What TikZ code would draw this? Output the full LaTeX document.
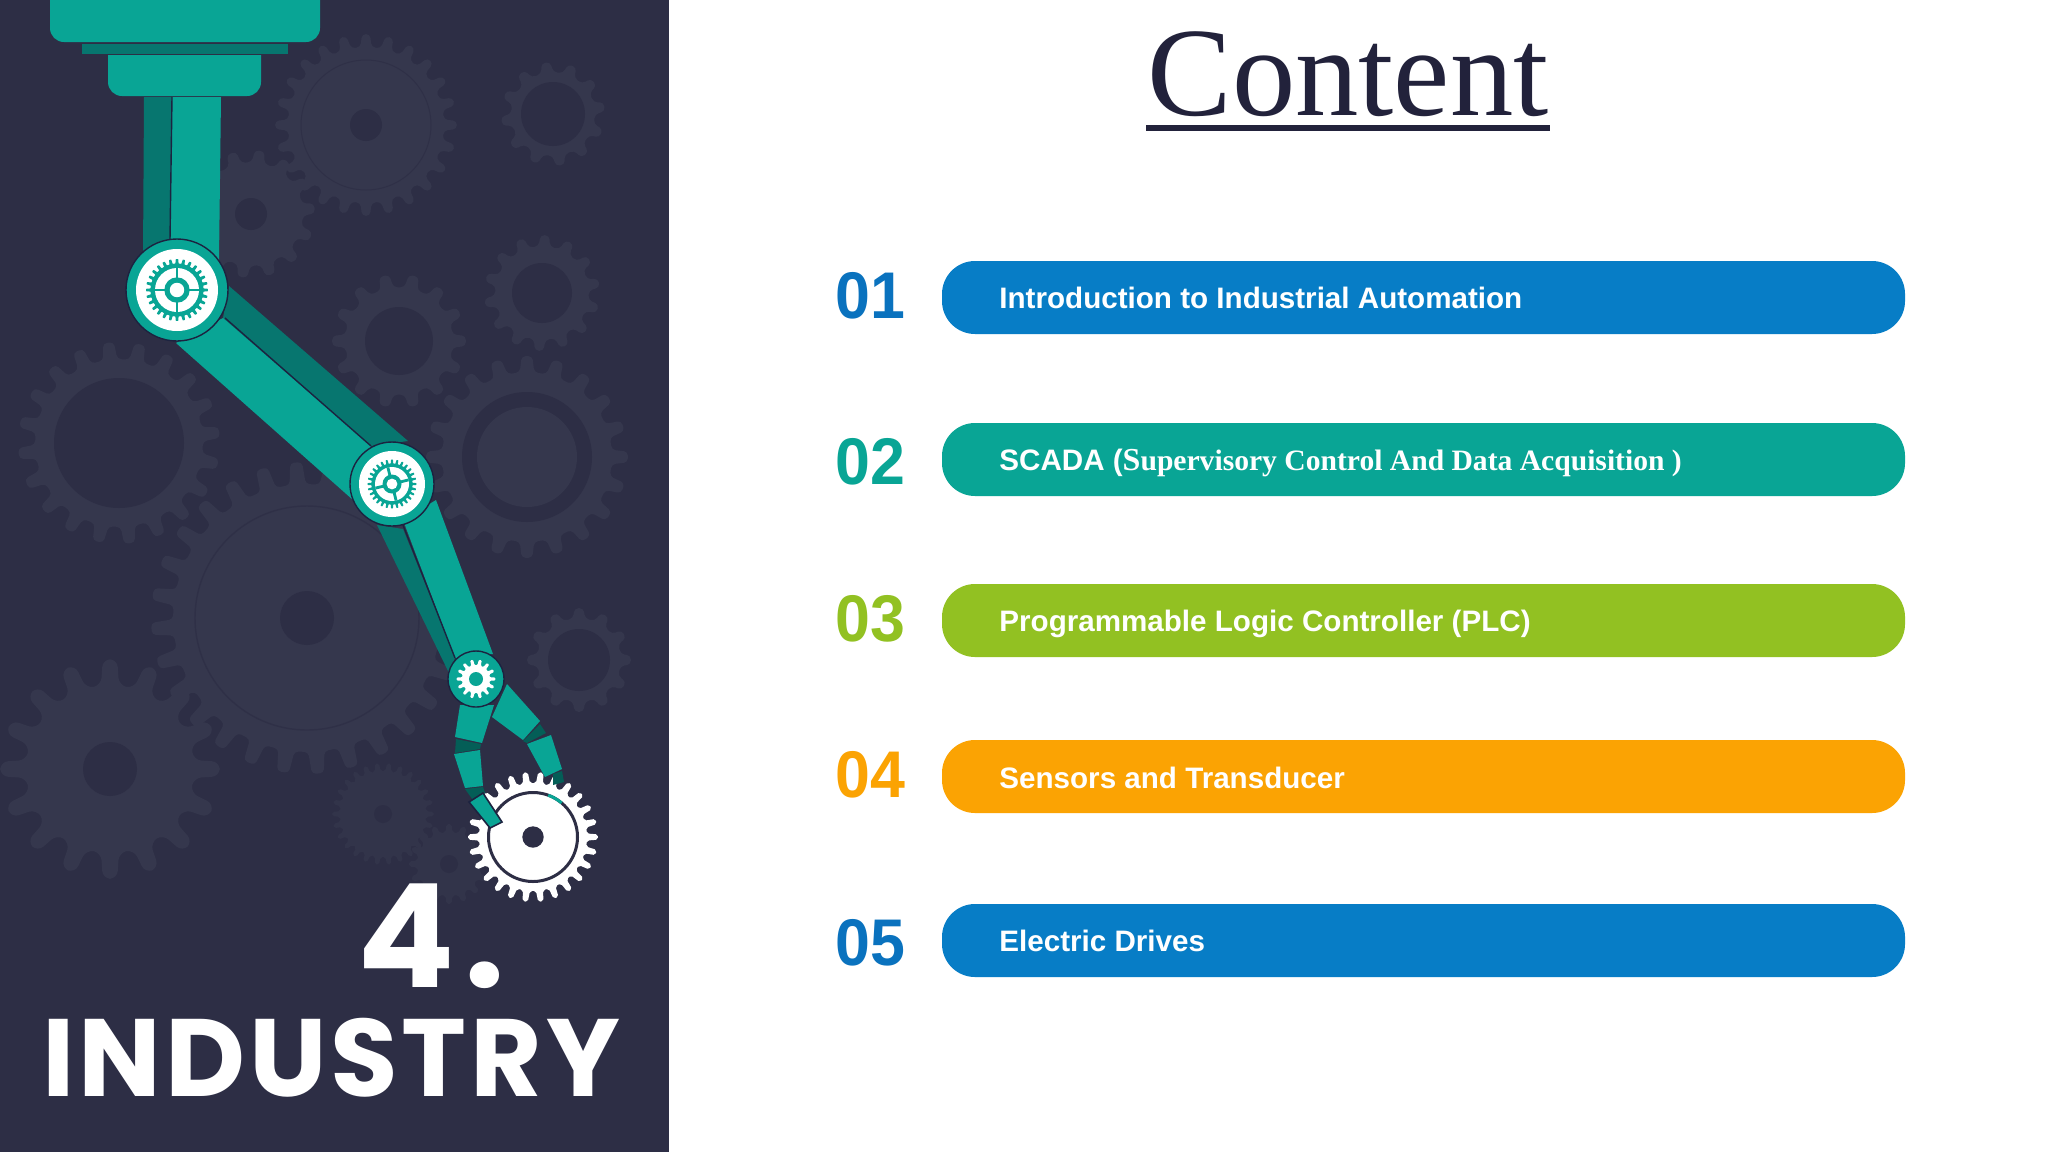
\documentclass[tikz,border=0pt]{standalone}
\usepackage{fontspec}
\setmainfont{Liberation Sans}
\newfontfamily\headfont{Poppins}
\newfontfamily\titlefont{Liberation Serif}
\definecolor{panel}{HTML}{2D2E45}
\definecolor{cog}{HTML}{35374D}
\definecolor{cogdim}{HTML}{32344A}
\definecolor{cogline}{HTML}{2F3047}
\definecolor{armteal}{HTML}{09A595}
\definecolor{armdark}{HTML}{07766F}
\definecolor{armseam}{HTML}{045E57}
\definecolor{armline}{HTML}{1C2340}
\definecolor{titleink}{HTML}{22223B}
\definecolor{pillblue}{HTML}{077DC6}
\definecolor{pillteal}{HTML}{09A595}
\definecolor{pillgreen}{HTML}{92C122}
\definecolor{pillorange}{HTML}{FBA303}
\definecolor{numblue}{HTML}{0A72BE}
\tikzset{
  pill/.style={rounded corners=16.5pt,draw=none},
  pilltext/.style={anchor=west,text=white,font=\fontsize{14.8}{18}\selectfont\bfseries,inner sep=0pt},
  numtext/.style={anchor=west,font=\fontsize{33}{36}\selectfont\bfseries,inner sep=0pt},
  arm/.style={fill=armteal},
  armd/.style={fill=armdark},
  arms/.style={fill=armseam},
  seam/.style={draw=armline,line width=0.7pt},
}
% #1 options, #2 cx, #3 cy, #4 tip radius, #5 root radius, #6 teeth, #7 rotation
\newcommand{\cogwheel}[7][cog]{%
  \pgfmathsetmacro{\gp}{360/#6}%
  \fill[rounded corners=2pt,#1,shift={(#2,#3)},rotate=#7]
    (-0.5*\gp:#5)
    \foreach \k in {1,...,#6}{
      -- ({(\k-1)*\gp-0.27*\gp}:#5)
      -- ({(\k-1)*\gp-0.17*\gp}:#4)
      -- ({(\k-1)*\gp+0.17*\gp}:#4)
      -- ({(\k-1)*\gp+0.27*\gp}:#5)
    } -- cycle;%
}
% joint with gear: #1 x,#2 y,#3 outer,#4 white,#5 tip,#6 root,#7 band,#8 rotation,#9 hub
\newcommand{\jointgear}[9]{%
  \cogwheel[armteal,rounded corners=0.2pt]{#1}{#2}{#5}{#6}{28}{0}%
  \fill[white,shift={(#1,#2)}] (0,0) circle ({#7});%
  \begin{scope}[shift={(#1,#2)},rotate=#8]
    \draw[armteal,line width=1.4pt] (-#7,0) -- (#7,0) (0,-#7) -- (0,#7);
  \end{scope}%
  \fill[armteal,shift={(#1,#2)}] (0,0) circle ({#9});%
  \fill[white,shift={(#1,#2)}] (0,0) circle ({#9*0.57});%
}
\begin{document}
\begin{tikzpicture}[x=0.5pt,y=-0.5pt]
\useasboundingbox (0,0) rectangle (2048,1152);
\fill[white] (0,0) rectangle (2048,1152);
\fill[panel] (0,0) rectangle (669,1152);

% background gears
\cogwheel{366}{125}{91}{78}{24}{0}
\cogwheel{553}{114}{52}{42}{12}{8}
\cogwheel{251}{214}{64}{52}{14}{5}
\cogwheel{542}{293}{58}{47}{14}{10}
\cogwheel{399}{341}{67}{54}{14}{0}
\cogwheel{119}{443}{101}{84}{20}{6}
\cogwheel{527}{457}{101}{85}{20}{0}
\cogwheel{307}{618}{156}{134}{28}{4}
\cogwheel{579}{660}{52}{42}{12}{0}
\cogwheel[cog,rounded corners=4pt]{110}{769}{110}{84}{16}{0}
\cogwheel[cogdim,rounded corners=1pt]{383}{814}{51}{43}{26}{0}
\cogwheel[cogdim,rounded corners=1pt]{449}{864}{40}{32}{16}{0}
\fill[panel] (366,125) circle (16);
\draw[cogline,line width=0.5pt] (366,125) circle (65);
\fill[panel] (553,114) circle (32);
\fill[panel] (251,214) circle (16);
\fill[panel] (542,293) circle (30);
\fill[panel] (399,341) circle (34);
\fill[panel] (119,443) circle (65);
\fill[panel] (527,457) circle (65);
\fill[cog] (527,457) circle (50);
\fill[panel] (307,618) circle (27);
\draw[cogline,line width=0.7pt] (307,618) circle (112);
\fill[panel] (579,660) circle (31);
\fill[panel] (110,769) circle (27);
\fill[panel] (383,814) circle (9);
\fill[panel] (449,864) circle (9);

% upper head
\fill[arm] (50,0) -- (320,0) -- (320,28) arc (0:90:14) -- (64,42) arc (90:180:14) -- cycle;
\fill[armd] (82,44) rectangle (288,54);
\fill[arm] (108,55) -- (261,55) -- (261,82) arc (0:90:14) -- (122,96) arc (90:180:14) -- cycle;
% upper arm
\fill[armd] (144,97) -- (172,97) -- (170,260) -- (143,260) -- cycle;
\fill[arm] (172,97) -- (221,97) -- (219,260) -- (170,260) -- cycle;
\draw[seam] (172,97) -- (170,240);
% middle arm
\fill[armd] (229,286) -- (408,441) -- (371,446) -- (223,318) -- cycle;
\fill[arm] (176,343) -- (223,318) -- (371,446) -- (353,500) -- cycle;
\draw[seam] (225,318) -- (371,446);
% lower arm
\fill[armd] (377,525) -- (403,529) -- (455,658) -- (449,673) -- cycle;
\fill[arm] (403,520) -- (436,500) -- (493,654) -- (455,658) -- cycle;
\draw[seam] (403,525) -- (455,658);
% joint 1
\node[circle,draw=armline,line width=0.7pt,fill=armteal,minimum size=51pt,inner sep=0pt] (jointa) at (177,290) {};
\fill[white] (jointa.center) circle (41);
\jointgear{177}{290}{51}{41}{31}{26.5}{22}{0}{12.7}
% joint 2
\node[circle,draw=armline,line width=0.7pt,fill=armteal,minimum size=42pt,inner sep=0pt] (jointb) at (392,484) {};
\fill[white] (jointb.center) circle (33);
\jointgear{392}{484}{42}{33}{24.5}{20.5}{17}{14}{9.5}

% white work gear
\cogwheel[white,rounded corners=1pt]{533}{837}{65}{54}{26}{0}
\fill[white] (533,837) circle (50);
\draw[panel,line width=1.5pt] (533,837) circle (44.5);
\draw[armteal,line width=1.5pt] (533,837) ++(-50:44.5) arc (-50:-70:44.5);
\fill[panel] (533,837) circle (10.7);

% fingers
\fill[arm] (460,705) -- (494,705) -- (482,743) -- (455,737) -- cycle;
\fill[arms] (456,739) -- (481,744) -- (480,749) -- (455,753) -- cycle;
\fill[arm] (454,754) -- (480,750) -- (483,786) -- (465,788) -- cycle;
\fill[arms] (465,789) -- (483,787) -- (485,793) -- (473,800) -- cycle;
\fill[arm,draw=armline,line width=0.8pt] (469,802) -- (483,793) -- (502,822) -- (490,828) -- cycle;
\fill[arm] (507,684) -- (540,721) -- (523,740) -- (492,717) -- cycle;
\fill[arms] (540,724) -- (546,733) -- (527,743) -- (523,741) -- cycle;
\fill[arm] (527,744) -- (551,735) -- (562,769) -- (545,777) -- cycle;
\fill[arms] (553,774) -- (562,771) -- (564,782) -- (553,785) -- cycle;

% joint 3
\node[circle,draw=armline,line width=0.7pt,fill=armteal,minimum size=28pt,inner sep=0pt] (jointc) at (476,679) {};
\cogwheel[white,rounded corners=0.5pt]{476}{679}{19.5}{14}{14}{0}
\fill[armteal] (476,679) circle (7);

% heading on panel
\node[anchor=base west,inner sep=0pt,text=white,font=\headfont\fontsize{72}{90}\selectfont\bfseries] (four) at (357,987) {4\kern5pt.};
\node[anchor=base west,inner sep=0pt,text=white,font=\headfont\fontsize{55}{66}\selectfont\bfseries] (industry) at (42,1096) {\addfontfeature{LetterSpace=3.5}INDUSTRY};

% title
\node[anchor=base,inner sep=0pt,text=titleink,font=\titlefont\fontsize{63.3}{70}\selectfont] (title) at (1348,115) {Content};
\fill[titleink] (1146,125) rectangle (1550,131);

% pills
\fill[pillblue,pill] (942,261) rectangle (1905,334);
\fill[pillteal,pill] (942,423) rectangle (1905,496);
\fill[pillgreen,pill] (942,584) rectangle (1905,657);
\fill[pillorange,pill] (942,740) rectangle (1905,813);
\fill[pillblue,pill] (942,904) rectangle (1905,977);
\node[pilltext] (ta) at (999,298) {Introduction to Industrial Automation};
\node[pilltext] (tb) at (999,463) {SCADA (\titlefont\fontsize{16}{18}\selectfont S\fontsize{14.8}{18}\selectfont upervisory Control And Data Acquisition )};
\node[pilltext] (tc) at (999,624) {Programmable Logic Controller (PLC)};
\node[pilltext] (td) at (999,778) {Sensors and Transducer};
\node[pilltext] (te) at (999,941) {Electric Drives};
\node[numtext,text=numblue] (na) at (835,296) {\scalebox{0.95}[1]{01}};
\node[numtext,text=pillteal] (nb) at (835,462) {\scalebox{0.95}[1]{02}};
\node[numtext,text=pillgreen] (nc) at (835,619) {\scalebox{0.95}[1]{03}};
\node[numtext,text=pillorange] (nd) at (835,775) {\scalebox{0.95}[1]{04}};
\node[numtext,text=numblue] (ne) at (835,943) {\scalebox{0.95}[1]{05}};
\end{tikzpicture}
\end{document}
